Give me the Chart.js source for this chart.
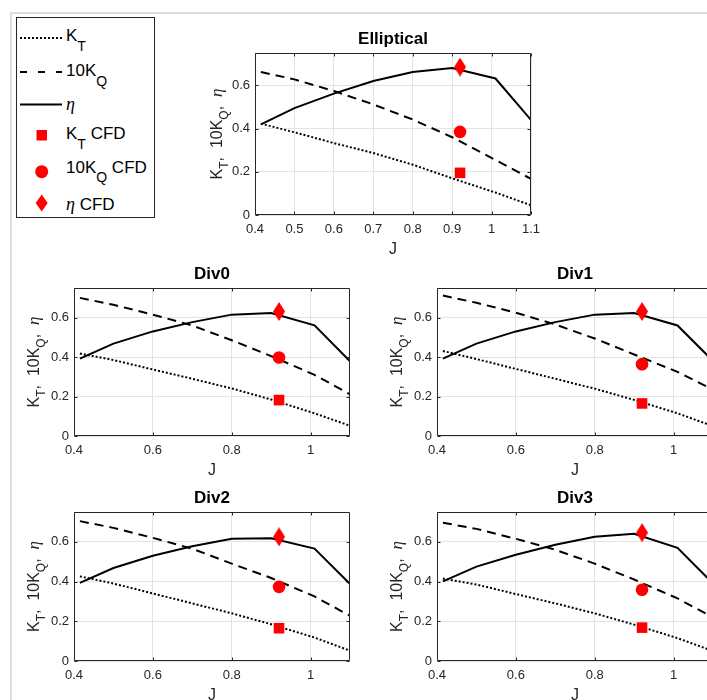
<!DOCTYPE html>
<html lang="en">
<head>
<meta charset="UTF-8">
<title>Open-water performance: Elliptical and Div0-Div3</title>
<script src="https://cdn.jsdelivr.net/npm/chart.js@4"></script>
<style>
    html, body {
        margin: 0;
        padding: 0;
        background: #fff;
        overflow: hidden;
    }
    body {
        position: relative;
        width: 707px;
        height: 700px;
        font-family: "Liberation Sans", Arial, sans-serif;
    }
    .frame {
        position: absolute;
        left: 10px;
        top: 12px;
        width: 760px;
        height: 760px;
        border-left: 2px solid #dedede;
        border-top: 2px solid #dedede;
    }
    canvas {
        position: absolute;
    }
    #legend {
        position: absolute;
        left: 0;
        top: 0;
    }
</style>
</head>
<body>
<div class="frame"></div>

<!-- shared legend -->
<svg id="legend" width="170" height="225" font-family="Liberation Sans, Arial, sans-serif" fill="#000">
    <rect x="16.5" y="17.5" width="138" height="200" fill="#fff" stroke="#262626" stroke-width="1"/>
    <line x1="20" y1="38" x2="62" y2="38" stroke="#000" stroke-width="2" stroke-dasharray="2 2"/>
    <line x1="20" y1="72" x2="62" y2="72" stroke="#000" stroke-width="2" stroke-dasharray="7 11"/>
    <line x1="20" y1="104.5" x2="62" y2="104.5" stroke="#000" stroke-width="2"/>
    <rect x="36.5" y="130" width="10.5" height="10.5" fill="#ff0000"/>
    <circle cx="41.7" cy="171.7" r="6.5" fill="#ff0000"/>
    <polygon points="41.7,194.5 47.7,203 41.7,211.5 35.7,203" fill="#ff0000"/>

    <text x="66" y="40.5" font-size="17">K<tspan font-size="14" dy="10">T</tspan></text>
    <text x="66" y="76" font-size="17">10K<tspan font-size="14" dy="9.5">Q</tspan></text>
    <text x="66" y="110" font-size="18" font-style="italic" font-family="Liberation Serif, serif">η</text>
    <text x="66" y="138.5" font-size="17">K<tspan font-size="14" dy="10">T</tspan><tspan dy="-10"> CFD</tspan></text>
    <text x="66" y="172.5" font-size="17">10K<tspan font-size="14" dy="9.5">Q</tspan><tspan dy="-9.5"> CFD</tspan></text>
    <text x="66" y="210" font-size="17"><tspan font-size="18" font-style="italic" font-family="Liberation Serif, serif">η</tspan> CFD</text>
</svg>

<canvas id="cEll"></canvas>
<canvas id="cDiv0"></canvas>
<canvas id="cDiv1"></canvas>
<canvas id="cDiv2"></canvas>
<canvas id="cDiv3"></canvas>

<script>
    // advance ratio stations of the open-water curves
    const jValues = [0.415, 0.5, 0.6, 0.7, 0.8, 0.9, 1.01, 1.1];
    // CFD point
    const jCfd = 0.92;

    // Elliptical
    const ktEll = [0.423, 0.383, 0.333, 0.287, 0.233, 0.170, 0.104, 0.045];
    const kqEll = [0.662, 0.628, 0.574, 0.512, 0.442, 0.360, 0.255, 0.167];
    const etaEll = [0.420, 0.495, 0.562, 0.620, 0.662, 0.680, 0.632, 0.440];
    const cfdEll = [0.195, 0.385, 0.685];   // KT, 10KQ, eta

    // Div0
    const ktDiv0 = [0.418, 0.385, 0.337, 0.290, 0.241, 0.185, 0.115, 0.052];
    const kqDiv0 = [0.700, 0.665, 0.615, 0.560, 0.485, 0.405, 0.310, 0.211];
    const etaDiv0 = [0.392, 0.468, 0.530, 0.577, 0.615, 0.623, 0.561, 0.379];
    const cfdDiv0 = [0.182, 0.398, 0.631];

    // Div1
    const ktDiv1 = [0.431, 0.390, 0.340, 0.290, 0.240, 0.183, 0.115, 0.050];
    const kqDiv1 = [0.712, 0.675, 0.625, 0.565, 0.494, 0.413, 0.325, 0.235];
    const etaDiv1 = [0.392, 0.468, 0.530, 0.577, 0.615, 0.623, 0.560, 0.380];
    const cfdDiv1 = [0.165, 0.364, 0.631];

    // Div2
    const ktDiv2 = [0.426, 0.390, 0.340, 0.290, 0.240, 0.185, 0.118, 0.052];
    const kqDiv2 = [0.704, 0.670, 0.620, 0.565, 0.490, 0.418, 0.325, 0.227];
    const etaDiv2 = [0.393, 0.468, 0.530, 0.578, 0.615, 0.618, 0.566, 0.388];
    const cfdDiv2 = [0.165, 0.373, 0.625];

    // Div3
    const ktDiv3 = [0.415, 0.385, 0.337, 0.290, 0.240, 0.183, 0.115, 0.050];
    const kqDiv3 = [0.696, 0.665, 0.615, 0.560, 0.490, 0.410, 0.315, 0.220];
    const etaDiv3 = [0.401, 0.475, 0.535, 0.585, 0.625, 0.640, 0.570, 0.390];
    const cfdDiv3 = [0.168, 0.359, 0.646];

    // axis ticks
    const yTicks = [0, 0.2, 0.4, 0.6];
    const xTicksFine = [0.4, 0.5, 0.6, 0.7, 0.8, 0.9, 1.0, 1.1];
    const xTicksCoarse = [0.4, 0.6, 0.8, 1.0];

    const AXIS = '#262626';
    const GRID = '#e3e3e3';
    const RED = '#ff0000';
    const FONT = '"Liberation Sans", Arial, sans-serif';

    // room around the plot box inside each canvas
    const PAD_L = 70, PAD_T = 45, PAD_R = 24, PAD_B = 50;

    const panels = [
        { id: 'cEll',  title: 'Elliptical', kt: ktEll,  kq: kqEll,  eta: etaEll,  cfd: cfdEll,  xTicks: xTicksFine,   box: [255, 53, 276, 162], labelGap: 33 },
        { id: 'cDiv0', title: 'Div0',       kt: ktDiv0, kq: kqDiv0, eta: etaDiv0, cfd: cfdDiv0, xTicks: xTicksCoarse, box: [74, 288, 276, 148],  labelGap: 35 },
        { id: 'cDiv1', title: 'Div1',       kt: ktDiv1, kq: kqDiv1, eta: etaDiv1, cfd: cfdDiv1, xTicks: xTicksCoarse, box: [437, 288, 276, 148], labelGap: 35 },
        { id: 'cDiv2', title: 'Div2',       kt: ktDiv2, kq: kqDiv2, eta: etaDiv2, cfd: cfdDiv2, xTicks: xTicksCoarse, box: [74, 512, 276, 149],  labelGap: 35 },
        { id: 'cDiv3', title: 'Div3',       kt: ktDiv3, kq: kqDiv3, eta: etaDiv3, cfd: cfdDiv3, xTicks: xTicksCoarse, box: [437, 512, 276, 149], labelGap: 35 }
    ];

    // tall red diamond used for the eta CFD point
    function makeDiamond(w, h) {
        const c = document.createElement('canvas');
        c.width = w;
        c.height = h;
        const g = c.getContext('2d');
        g.fillStyle = RED;
        g.beginPath();
        g.moveTo(w / 2, 0);
        g.lineTo(w, h / 2);
        g.lineTo(w / 2, h);
        g.lineTo(0, h / 2);
        g.closePath();
        g.fill();
        return c;
    }
    const diamond = makeDiamond(12, 19);

    // y label with sub-scripts: K_T, 10K_Q, eta
    const yLabelParts = [
        { t: 'K' }, { t: 'T', sub: true }, { t: ',  10K' }, { t: 'Q', sub: true }, { t: ',  ' }, { t: 'η', greek: true }
    ];

    function partFont(p, size) {
        if (p.greek) return 'italic ' + (size + 1) + 'px "Liberation Serif", serif';
        if (p.sub) return Math.round(size * 0.75) + 'px ' + FONT;
        return size + 'px ' + FONT;
    }

    function drawYLabel(ctx, x, y, size) {
        let total = 0;
        yLabelParts.forEach(function(p) {
            ctx.font = partFont(p, size);
            p.w = ctx.measureText(p.t).width;
            total += p.w;
        });
        ctx.save();
        ctx.translate(x, y);
        ctx.rotate(-Math.PI / 2);
        ctx.textAlign = 'left';
        ctx.textBaseline = 'alphabetic';
        let cx = -total / 2;
        yLabelParts.forEach(function(p) {
            ctx.font = partFont(p, size);
            ctx.fillText(p.t, cx, p.sub ? size * 0.4 : 0);
            cx += p.w;
        });
        ctx.restore();
    }

    // MATLAB-like box: full frame, inward ticks, title and axis labels
    const axesDecor = {
        id: 'axesDecor',
        afterDatasetsDraw(chart, args, opts) {
            const ctx = chart.ctx;
            const a = chart.chartArea;
            const xs = chart.scales.x, ys = chart.scales.y;
            const l = Math.round(a.left) + 0.5, r = Math.round(a.right) - 0.5;
            const t = Math.round(a.top) + 0.5, b = Math.round(a.bottom) - 0.5;
            const tick = 3;

            ctx.save();
            ctx.strokeStyle = AXIS;
            ctx.lineWidth = 1;
            ctx.beginPath();
            ctx.rect(l, t, r - l, b - t);
            xs.ticks.forEach(function(tk) {
                const px = Math.round(xs.getPixelForValue(tk.value)) + 0.5;
                ctx.moveTo(px, b); ctx.lineTo(px, b - tick);
                ctx.moveTo(px, t); ctx.lineTo(px, t + tick);
            });
            ys.ticks.forEach(function(tk) {
                const py = Math.round(ys.getPixelForValue(tk.value)) + 0.5;
                ctx.moveTo(l, py); ctx.lineTo(l + tick, py);
                ctx.moveTo(r, py); ctx.lineTo(r - tick, py);
            });
            ctx.stroke();

            // title
            ctx.fillStyle = '#000';
            ctx.font = 'bold 17px ' + FONT;
            ctx.textAlign = 'center';
            ctx.textBaseline = 'middle';
            ctx.fillText(opts.title, (a.left + a.right) / 2, a.top - 14);

            // x label
            ctx.fillStyle = AXIS;
            ctx.font = '16px ' + FONT;
            ctx.fillText('J', (a.left + a.right) / 2, a.bottom + 35);

            // y label
            drawYLabel(ctx, a.left - opts.labelGap, (a.top + a.bottom) / 2, 16);
            ctx.restore();
        }
    };

    function tickText(v) {
        return String(Math.round(v * 10) / 10);
    }

    panels.forEach(function(p) {
        const [left, top, w, h] = p.box;
        const canvas = document.getElementById(p.id);
        canvas.width = PAD_L + w + PAD_R;
        canvas.height = PAD_T + h + PAD_B;
        canvas.style.left = (left - PAD_L) + 'px';
        canvas.style.top = (top - PAD_T) + 'px';

        const line = function(values, dash) {
            return {
                data: jValues.map(function(j, i) { return { x: j, y: values[i] }; }),
                borderColor: '#000',
                borderWidth: 2,
                borderDash: dash,
                pointRadius: 0,
                fill: false,
                tension: 0,
                order: 2
            };
        };
        const marker = function(value, style, radius) {
            return {
                data: [{ x: jCfd, y: value }],
                showLine: false,
                pointStyle: style,
                pointRadius: radius,
                backgroundColor: RED,
                borderColor: RED,
                borderWidth: 0,
                order: 1
            };
        };

        new Chart(canvas.getContext('2d'), {
            type: 'line',
            data: {
                datasets: [
                    line(p.kt, [2, 2]),
                    line(p.kq, [9, 6]),
                    line(p.eta, []),
                    marker(p.cfd[0], 'rect', 7.5),
                    marker(p.cfd[1], 'circle', 6.3),
                    marker(p.cfd[2], diamond, 8)
                ]
            },
            options: {
                responsive: false,
                animation: false,
                events: [],
                layout: { padding: { left: 0, top: PAD_T, right: PAD_R, bottom: 0 } },
                plugins: {
                    legend: { display: false },
                    tooltip: { enabled: false },
                    axesDecor: { title: p.title, labelGap: p.labelGap }
                },
                scales: {
                    x: {
                        type: 'linear',
                        min: 0.4,
                        max: 1.1,
                        afterFit: function(s) { s.height = PAD_B; },
                        afterBuildTicks: function(s) { s.ticks = p.xTicks.map(function(v) { return { value: v }; }); },
                        grid: { color: GRID, drawTicks: false },
                        border: { display: false },
                        ticks: {
                            color: AXIS,
                            font: { family: FONT, size: 13 },
                            padding: 7,
                            maxRotation: 0,
                            callback: tickText
                        }
                    },
                    y: {
                        type: 'linear',
                        min: 0,
                        max: 0.75,
                        afterFit: function(s) { s.width = PAD_L; },
                        afterBuildTicks: function(s) { s.ticks = yTicks.map(function(v) { return { value: v }; }); },
                        grid: { color: GRID, drawTicks: false },
                        border: { display: false },
                        ticks: {
                            color: AXIS,
                            font: { family: FONT, size: 13 },
                            padding: 5,
                            callback: tickText
                        }
                    }
                }
            },
            plugins: [axesDecor]
        });
    });
</script>
</body>
</html>
